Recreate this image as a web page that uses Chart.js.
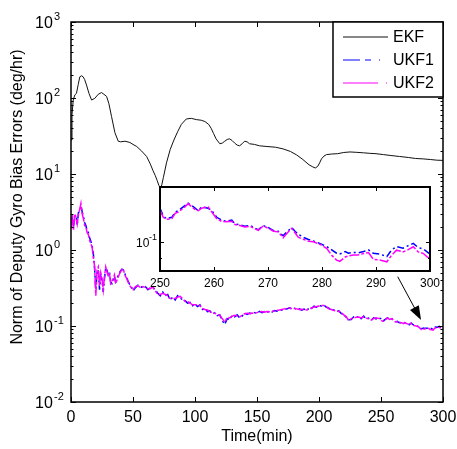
<!DOCTYPE html>
<html>
<head>
<meta charset="utf-8">
<script src="https://cdn.jsdelivr.net/npm/chart.js@4/dist/chart.umd.min.js"></script>
<style>
html, body { margin: 0; padding: 0; background: #fff; }
#wrap { position: relative; width: 457px; height: 449px; }
#mainChart { position: absolute; left: 0; top: 0; }
#insetChart { position: absolute; left: 120px; top: 180px; }
</style>
</head>
<body>
<div id="wrap">
  <canvas id="mainChart" width="457" height="449"></canvas>
  <canvas id="insetChart" width="320" height="115"></canvas>
</div>
<script>
// EKF curve (min, deg/hr)
const ekfTime = [0, 0.8, 1.8, 3.1, 4.4, 5.8, 7.1, 8.5, 9.8, 11, 12.5, 14.5, 16.6, 19.2, 22, 24.6, 26.5, 28.7, 30.5, 32.7,
  35.4, 38.1, 40, 43.5, 47.5, 50, 53, 57, 61, 64, 66, 68, 69.5, 71, 72.3, 73.2, 74.5, 77, 80, 83,
  86, 89, 93, 97, 101, 105, 108, 111, 113, 115, 117, 120, 122, 124, 126, 128, 130, 132, 134, 136,
  138, 140, 142, 144, 148, 152, 158, 165, 171, 177, 182, 187, 192, 195, 197, 199, 200.5, 202, 204, 206,
  210, 215, 220, 225, 230, 236, 241, 246, 252, 258, 265, 272, 278, 284, 290, 295, 300];
const ekf = [28, 60, 94, 110, 115, 150, 190, 196, 190, 175, 148, 115, 94, 99, 112, 118, 112, 105, 85, 57,
  35, 27, 26.5, 27, 26, 24.5, 23, 20, 17, 13.5, 11.2, 9.5, 8.2, 7.0, 6.4, 7.2, 9.0, 14, 21, 28,
  36, 45, 53, 54, 52, 51, 49, 45, 40, 34, 29, 25, 25.5, 27, 28.5, 29, 27.5, 25.5, 24, 23.5,
  25, 27, 26.5, 25, 24.5, 23.5, 23, 22.5, 21.4, 19.8, 17.8, 15.5, 13.2, 12.4, 12.0, 12.6, 14, 15.8, 17.2, 18,
  18.3, 18.5, 19.2, 19.5, 19.3, 19.0, 18.7, 18.5, 18.0, 17.5, 17.0, 16.5, 16.0, 15.8, 15.5, 15.2, 15.1];

// UKF curves share one time base
const ukfTime = [0, 1, 2, 3, 4, 5, 6, 7, 8, 9, 10, 11, 12, 13, 14, 15, 16, 17, 18, 19,
  20, 21, 22, 23, 24, 25, 26, 27, 28, 29, 30, 31, 32, 33, 34, 35, 36, 37, 38, 39,
  40, 41, 42, 43, 44, 45, 46, 47, 48, 49, 50,
  52, 54, 56, 58, 60, 62, 64, 66, 68, 70, 72, 74, 76, 78, 80, 82, 84, 86, 88, 90,
  92, 94, 96, 98, 100, 102, 104, 106, 108, 110, 112, 114, 116, 118, 120, 122, 124, 126, 128, 130,
  132, 134, 136, 138, 140, 142, 144, 146, 148, 150, 152, 154, 156, 158, 160, 162, 164, 166, 168, 170,
  172, 174, 176, 178, 180, 182, 184, 186, 188, 190, 192, 194, 196, 198, 200, 202, 204, 206, 208, 210,
  212, 214, 216, 218, 220, 222, 224, 226, 228, 230, 232, 234, 236, 238, 240, 242, 244, 246, 248,
  250, 250.6, 251.2, 252.2, 252.8, 253.4, 254, 254.6, 255.2, 255.9, 256.5, 257.1, 257.7, 258.3, 258.9,
  259.6, 260.5, 261.4, 262.2, 263.3, 263.9, 264.8, 265.7, 266.7, 267.4, 268.2, 269.1, 270.1, 271, 271.9,
  272.8, 273.6, 274.4, 275, 275.6, 276.5, 277.5, 278.4, 279.2, 279.9, 280.9, 281.8, 282.7, 283.3, 284.3,
  284.9, 285.8, 286.7, 287.7, 288.6, 289.5, 290.7, 292, 292.9, 293.8, 295, 295.9, 296.9, 297.8, 298.8,
  299.4, 300];
const ukf1 = [2.2, 2.6, 2.0, 2.8, 2.9, 2.1, 3.1, 3.2, 3.8, 3.2, 2.8, 2.3, 2.1, 1.8, 1.7, 1.45, 1.3, 1.15, 0.9, 0.58,
  0.3, 0.5, 0.55, 0.3, 0.45, 0.4, 0.28, 0.42, 0.58, 0.55, 0.47, 0.52, 0.38, 0.36, 0.4, 0.45, 0.38, 0.41, 0.46, 0.5,
  0.53, 0.56, 0.55, 0.52, 0.46, 0.43, 0.39, 0.36, 0.34, 0.32, 0.29,
  0.32, 0.345, 0.33, 0.32, 0.33, 0.30, 0.32, 0.32, 0.30, 0.27, 0.25, 0.28, 0.25, 0.26, 0.22, 0.24, 0.22, 0.25, 0.235, 0.22,
  0.215, 0.2, 0.205, 0.185, 0.195, 0.18, 0.19, 0.165, 0.17, 0.155, 0.158, 0.143, 0.15, 0.137, 0.14, 0.118, 0.105, 0.125, 0.122, 0.138,
  0.132, 0.14, 0.128, 0.135, 0.148, 0.142, 0.148, 0.144, 0.15, 0.146, 0.156, 0.15, 0.155, 0.151, 0.157, 0.152, 0.16, 0.157, 0.165, 0.162,
  0.17, 0.167, 0.174, 0.168, 0.173, 0.165, 0.168, 0.162, 0.167, 0.158, 0.172, 0.17, 0.182, 0.177, 0.186, 0.183, 0.189, 0.176, 0.172, 0.16,
  0.163, 0.155, 0.158, 0.146, 0.143, 0.128, 0.121, 0.122, 0.132, 0.127, 0.135, 0.125, 0.135, 0.124, 0.127, 0.118, 0.128, 0.124, 0.13,
  0.124, 0.118, 0.116, 0.117, 0.121, 0.122, 0.124, 0.126, 0.128, 0.126, 0.124, 0.122, 0.125, 0.1245, 0.124,
  0.122, 0.117, 0.115, 0.114, 0.115, 0.112, 0.1115, 0.1105, 0.111, 0.1095, 0.108, 0.111, 0.1095, 0.1075, 0.107,
  0.104, 0.107, 0.1095, 0.107, 0.105, 0.103, 0.1015, 0.1005, 0.0995, 0.0985, 0.097, 0.095, 0.093, 0.0925, 0.094,
  0.093, 0.0935, 0.0932, 0.094, 0.095, 0.093, 0.0925, 0.091, 0.095, 0.097, 0.096, 0.0975, 0.099, 0.0965, 0.0955,
  0.094, 0.0925];
const ukf2 = [2.0, 2.9, 1.8, 3.0, 2.7, 2.2, 2.9, 3.4, 4.1, 3.0, 2.6, 2.1, 2.0, 1.7, 1.6, 1.35, 1.2, 1.1, 0.8, 0.62,
  0.25, 0.55, 0.6, 0.33, 0.5, 0.42, 0.30, 0.45, 0.6, 0.52, 0.45, 0.5, 0.36, 0.38, 0.42, 0.47, 0.36, 0.40, 0.44, 0.48,
  0.52, 0.55, 0.57, 0.5, 0.45, 0.42, 0.38, 0.35, 0.33, 0.31, 0.30,
  0.33, 0.34, 0.32, 0.33, 0.32, 0.31, 0.31, 0.33, 0.29, 0.26, 0.26, 0.27, 0.26, 0.25, 0.23, 0.23, 0.23, 0.24, 0.245, 0.23,
  0.21, 0.21, 0.20, 0.19, 0.19, 0.19, 0.185, 0.17, 0.165, 0.162, 0.155, 0.148, 0.147, 0.142, 0.138, 0.125, 0.112, 0.13, 0.128, 0.135,
  0.138, 0.135, 0.132, 0.138, 0.145, 0.147, 0.145, 0.148, 0.147, 0.15, 0.153, 0.155, 0.152, 0.155, 0.154, 0.156, 0.158, 0.16, 0.162, 0.165,
  0.168, 0.17, 0.172, 0.17, 0.17, 0.168, 0.165, 0.166, 0.164, 0.162, 0.168, 0.173, 0.178, 0.18, 0.183, 0.186, 0.186, 0.18, 0.168, 0.165,
  0.16, 0.158, 0.155, 0.15, 0.14, 0.132, 0.118, 0.125, 0.128, 0.13, 0.131, 0.128, 0.132, 0.127, 0.124, 0.12, 0.125, 0.128, 0.126,
  0.1225, 0.117, 0.1155, 0.116, 0.12, 0.121, 0.123, 0.125, 0.1277, 0.125, 0.123, 0.122, 0.124, 0.1245, 0.125,
  0.121, 0.116, 0.114, 0.1137, 0.114, 0.1117, 0.111, 0.110, 0.1105, 0.109, 0.1077, 0.1107, 0.109, 0.107, 0.1066,
  0.1026, 0.106, 0.109, 0.106, 0.103, 0.1017, 0.1004, 0.1, 0.099, 0.098, 0.0958, 0.0918, 0.089, 0.0883, 0.0908,
  0.0914, 0.092, 0.092, 0.0928, 0.0934, 0.0895, 0.089, 0.088, 0.0918, 0.0948, 0.0938, 0.095, 0.0969, 0.0938, 0.0928,
  0.091, 0.09];

const seriesNames = ["EKF", "UKF1", "UKF2"];
const xTicks = [0, 50, 100, 150, 200, 250, 300];
const yExponents = [-2, -1, 0, 1, 2, 3];
const insetXTicks = [250, 260, 270, 280, 290, 300];

const FONT = "'Liberation Sans', Arial, sans-serif";
const colors = ["#111111", "#0000ff", "#ff00ff"];
const dashes = [[], [7, 3, 2, 3], [10, 2, 3, 2]];

function pts(ts, vs, from) {
  const out = [];
  ts.forEach((t, i) => { if (from === undefined || t >= from) out.push({ x: t, y: vs[i] }); });
  return out;
}

// inward tick marks, MATLAB style
function drawBoxTicks(ctx, area, x, y, xt, yt, opt) {
  ctx.save();
  ctx.strokeStyle = "#000";
  ctx.lineWidth = 1;
  ctx.beginPath();
  xt.forEach(v => {
    const px = Math.round(x.getPixelForValue(v)) + 0.5;
    ctx.moveTo(px, area.bottom); ctx.lineTo(px, area.bottom - opt.len);
    ctx.moveTo(px, area.top); ctx.lineTo(px, area.top + opt.len);
  });
  yt.forEach(v => {
    const py = Math.round(y.getPixelForValue(v)) + 0.5;
    ctx.moveTo(area.left, py); ctx.lineTo(area.left + opt.len, py);
    ctx.moveTo(area.right, py); ctx.lineTo(area.right - opt.len, py);
  });
  (opt.minor || []).forEach(v => {
    const py = Math.round(y.getPixelForValue(v)) + 0.5;
    ctx.moveTo(area.left, py); ctx.lineTo(area.left + opt.len / 2, py);
    ctx.moveTo(area.right, py); ctx.lineTo(area.right - opt.len / 2, py);
  });
  ctx.stroke();
  ctx.lineWidth = opt.box;
  ctx.strokeRect(area.left, area.top, area.right - area.left, area.bottom - area.top);
  ctx.restore();
}

const mainDecor = {
  id: "mainDecor",
  afterDraw(chart) {
    const ctx = chart.ctx, a = chart.chartArea;
    const x = chart.scales.x, y = chart.scales.y;
    const minor = [];
    for (let e = -2; e < 3; e++) for (let m = 2; m <= 9; m++) minor.push(m * Math.pow(10, e));
    drawBoxTicks(ctx, a, x, y, xTicks, yExponents.map(e => Math.pow(10, e)), { len: 5, box: 1.5, minor: minor });

    // y tick labels 10^n
    ctx.save();
    ctx.fillStyle = "#000";
    ctx.textAlign = "left";
    ctx.textBaseline = "alphabetic";
    yExponents.forEach(e => {
      const py = y.getPixelForValue(Math.pow(10, e));
      ctx.font = "16px " + FONT;
      ctx.fillText("10", 35, py + 6);
      ctx.font = "11px " + FONT;
      ctx.fillText(String(e), 54, py - 2);
    });
    // y title
    ctx.font = "16px " + FONT;
    ctx.textAlign = "center";
    ctx.textBaseline = "middle";
    ctx.translate(18, 197);
    ctx.rotate(-Math.PI / 2);
    ctx.fillText("Norm of Deputy Gyro Bias Errors (deg/hr)", 0, 0);
    ctx.restore();

    // legend box
    ctx.save();
    const lx = 333, ly = a.top, lw = a.right - 333, lh = 75;
    ctx.fillStyle = "#fff";
    ctx.fillRect(lx, ly, lw, lh);
    ctx.strokeStyle = "#000";
    ctx.lineWidth = 1.5;
    ctx.strokeRect(lx, ly, lw, lh);
    ctx.font = "16px " + FONT;
    ctx.textBaseline = "middle";
    ctx.textAlign = "left";
    seriesNames.forEach((n, i) => {
      const yy = ly + 15 + i * 23;
      ctx.strokeStyle = colors[i];
      ctx.lineWidth = 1;
      ctx.setLineDash(i === 1 ? [17, 5, 6, 8, 1, 20] : (i === 2 ? [35, 8, 1, 20] : []));
      ctx.beginPath();
      ctx.moveTo(343, yy); ctx.lineTo(388, yy);
      ctx.stroke();
      ctx.setLineDash([]);
      ctx.fillStyle = "#000";
      ctx.fillText(n, 393, yy + 1);
    });
    ctx.restore();

    // arrow pointing to the zoomed segment
    const x0 = x.getPixelForValue(263.5), y0 = y.getPixelForValue(0.445);
    const x1 = x.getPixelForValue(282.3), y1 = y.getPixelForValue(0.12);
    const ang = Math.atan2(y1 - y0, x1 - x0);
    ctx.save();
    ctx.strokeStyle = "#000";
    ctx.fillStyle = "#000";
    ctx.lineWidth = 1;
    ctx.beginPath();
    ctx.moveTo(x0, y0);
    ctx.lineTo(x1 - 10 * Math.cos(ang), y1 - 10 * Math.sin(ang));
    ctx.stroke();
    ctx.beginPath();
    ctx.moveTo(x1, y1);
    ctx.lineTo(x1 - 14 * Math.cos(ang) + 5 * Math.sin(ang), y1 - 14 * Math.sin(ang) - 5 * Math.cos(ang));
    ctx.lineTo(x1 - 14 * Math.cos(ang) - 5 * Math.sin(ang), y1 - 14 * Math.sin(ang) + 5 * Math.cos(ang));
    ctx.closePath();
    ctx.fill();
    ctx.restore();
  }
};

new Chart(document.getElementById("mainChart"), {
  type: "line",
  data: {
    datasets: [
      { label: seriesNames[0], data: pts(ekfTime, ekf), borderColor: colors[0], borderWidth: 1, order: 2 },
      { label: seriesNames[1], data: pts(ukfTime, ukf1), borderColor: colors[1], borderWidth: 1.5, borderDash: dashes[1], order: 1 },
      { label: seriesNames[2], data: pts(ukfTime, ukf2), borderColor: colors[2], borderWidth: 1.5, borderDash: dashes[2], order: 0 }
    ]
  },
  options: {
    responsive: false,
    animation: false,
    layout: { padding: { left: 71, right: 14, top: 22, bottom: 0 } },
    elements: { point: { radius: 0 }, line: { tension: 0 } },
    plugins: { legend: { display: false }, tooltip: { enabled: false } },
    scales: {
      x: {
        type: "linear", min: 0, max: 300,
        grid: { display: false, drawTicks: false }, border: { display: false },
        ticks: { stepSize: 50, color: "#000", font: { family: FONT, size: 16 }, padding: 6, maxRotation: 0 },
        title: { display: true, text: "Time(min)", color: "#000", font: { family: FONT, size: 16 }, padding: { top: 0, bottom: 3 } },
        afterFit(s) { s.height = 47; s.paddingLeft = 0; s.paddingRight = 0; }
      },
      y: { type: "logarithmic", min: 0.01, max: 1000, display: false }
    }
  },
  plugins: [mainDecor]
});

// inset: zoom on 250-300 min
const insetDecor = {
  id: "insetDecor",
  beforeDatasetsDraw(chart) {
    const a = chart.chartArea, ctx = chart.ctx;
    ctx.save();
    ctx.fillStyle = "#fff";
    ctx.fillRect(a.left, a.top, a.right - a.left, a.bottom - a.top);
    ctx.restore();
  },
  afterDraw(chart) {
    const ctx = chart.ctx, a = chart.chartArea;
    const x = chart.scales.x, y = chart.scales.y;
    drawBoxTicks(ctx, a, x, y, insetXTicks, [0.1], { len: 4, box: 2, minor: [0.09] });
    const py = y.getPixelForValue(0.1);
    ctx.save();
    ctx.fillStyle = "#000";
    ctx.textAlign = "left";
    ctx.font = "12px " + FONT;
    ctx.fillText("10", 16, py + 5);
    ctx.font = "9px " + FONT;
    ctx.fillText("-1", 29, py - 2);
    ctx.restore();
  }
};

new Chart(document.getElementById("insetChart"), {
  type: "line",
  data: {
    datasets: [
      { label: seriesNames[1], data: pts(ukfTime, ukf1, 250), borderColor: colors[1], borderWidth: 1.5, borderDash: dashes[1], order: 1 },
      { label: seriesNames[2], data: pts(ukfTime, ukf2, 250), borderColor: colors[2], borderWidth: 1.5, borderDash: dashes[2], order: 0 }
    ]
  },
  options: {
    responsive: false,
    animation: false,
    layout: { padding: { left: 40, right: 10, top: 7, bottom: 0 } },
    elements: { point: { radius: 0 }, line: { tension: 0 } },
    plugins: { legend: { display: false }, tooltip: { enabled: false } },
    scales: {
      x: {
        type: "linear", min: 250, max: 300,
        grid: { display: false, drawTicks: false }, border: { display: false },
        ticks: { stepSize: 10, color: "#000", font: { family: FONT, size: 12 }, padding: 5, maxRotation: 0 },
        afterFit(s) { s.height = 24; s.paddingLeft = 0; s.paddingRight = 0; }
      },
      y: { type: "logarithmic", min: 0.083, max: 0.142, display: false }
    }
  },
  plugins: [insetDecor]
});
</script>
</body>
</html>
